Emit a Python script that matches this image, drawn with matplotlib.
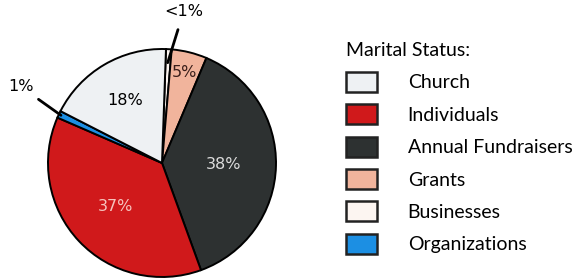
import numpy as np
import matplotlib.pyplot as plt
from matplotlib.patches import Patch

# data in the order the wedges are drawn (clockwise from the top)
pie_labels = ['Businesses', 'Grants', 'Annual Fundraisers', 'Individuals', 'Organizations', 'Church']
pie_values = [0.8, 5, 38, 37, 1, 18]
pie_text = ['<1%', '5%', '38%', '37%', '1%', '18%']

# legend order
legend_labels = ['Church', 'Individuals', 'Annual Fundraisers', 'Grants', 'Businesses', 'Organizations']

colors = {
    'Church': '#eef1f3',
    'Individuals': '#d0191b',
    'Annual Fundraisers': '#2d3131',
    'Grants': '#f1b49c',
    'Businesses': '#fcf5f1',
    'Organizations': '#1c8fe3',
}

fig = plt.figure(figsize=(5.82, 2.80), dpi=100)
cx, cy, r = 162, 163, 114
ax = fig.add_axes([(cx - r) / 582, (280 - cy - r) / 280, 2 * r / 582, 2 * r / 280])

wedges, _ = ax.pie(pie_values, colors=[colors[k] for k in pie_labels],
                   startangle=88, counterclock=False,
                   wedgeprops=dict(edgecolor='black', linewidth=1.4))
ax.set_xlim(-1, 1)
ax.set_ylim(-1, 1)
ax.axis('off')

# inside labels
dist = {'Grants': 0.82, 'Annual Fundraisers': 0.54, 'Individuals': 0.56, 'Church': 0.64}
tcol = {'Grants': '#3a1e1a', 'Annual Fundraisers': '#dcdcdc', 'Individuals': '#f6c3bd', 'Church': 'black'}
for w, name, txt in zip(wedges, pie_labels, pie_text):
    ang = np.deg2rad((w.theta1 + w.theta2) / 2)
    if name in dist:
        d = dist[name]
        ax.text(d * np.cos(ang), d * np.sin(ang), txt, ha='center', va='center',
                fontsize=11.5, color=tcol[name])
    elif name == 'Organizations':
        p_end = (0.98 * np.cos(ang), 0.98 * np.sin(ang))
        ax.annotate(txt, xy=p_end, xytext=(-1.24, 0.67), ha='center', va='center', fontsize=11.5,
                    arrowprops=dict(arrowstyle='-', lw=2, color='black', shrinkA=3, shrinkB=0),
                    annotation_clip=False)
    else:
        ax.annotate(txt, xy=(0.05, 0.88), xytext=(0.19, 1.33), ha='center', va='center', fontsize=11.5,
                    arrowprops=dict(arrowstyle='-', lw=2, color='black', shrinkA=6, shrinkB=0),
                    annotation_clip=False)

handles = [Patch(facecolor=colors[k], edgecolor='#222222', linewidth=1.8) for k in legend_labels]
leg = fig.legend(handles, legend_labels, loc='upper left', bbox_to_anchor=(328 / 582, 1 - 25 / 280),
                 frameon=False, title='Marital Status:', alignment='left',
                 prop=dict(family='Lato', size=14), labelcolor='black',
                 handlelength=1.6, handleheight=1.2, handletextpad=1.6, labelspacing=0.64)
leg.get_title().set_fontproperties(dict(family='Lato', size=14))
leg.get_title().set_color('black')

fig.savefig('out.png', dpi=100)
